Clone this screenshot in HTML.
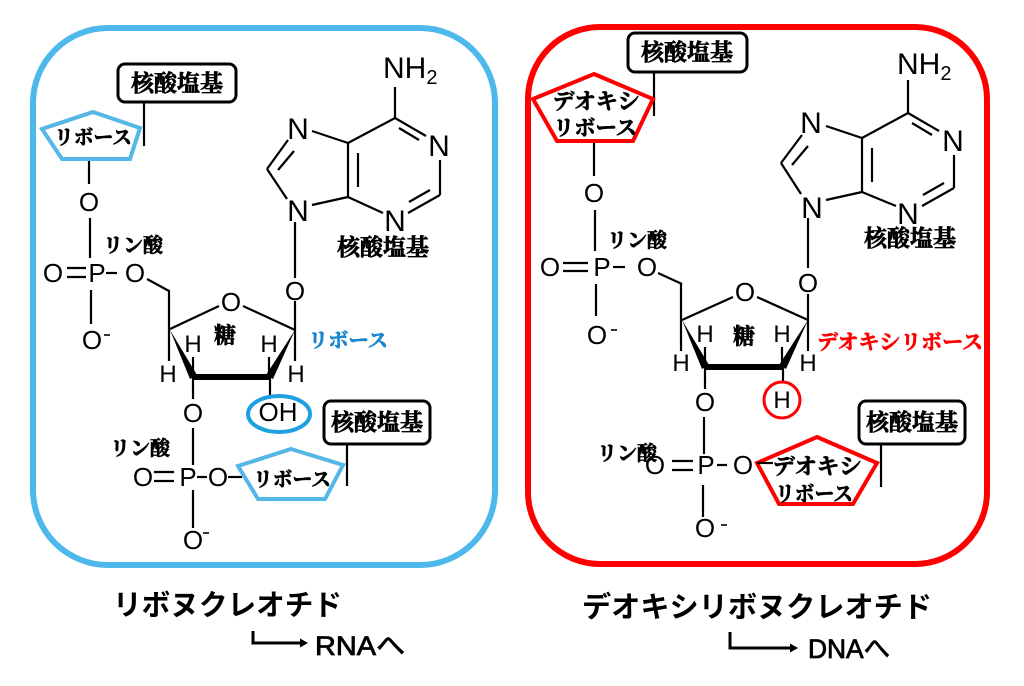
<!DOCTYPE html>
<html><head><meta charset="utf-8"><style>
html,body{margin:0;padding:0;background:#fff;}
svg{display:block;}
.c{font-family:"Liberation Sans",sans-serif;fill:#000;text-anchor:middle;}
.j{font-family:"Noto Serif CJK SC","Noto Sans CJK JP",serif;font-weight:bold;fill:#000;stroke:#000;stroke-width:0.7;text-anchor:middle;}
.g{font-family:"Liberation Sans","Noto Sans CJK JP",sans-serif;font-weight:bold;fill:#000;}
</style></head><body>
<svg width="1024" height="686" viewBox="0 0 1024 686" xmlns="http://www.w3.org/2000/svg">
<rect width="1024" height="686" fill="#fff"/>

<!-- ============ LEFT PANEL ============ -->
<rect x="33" y="28" width="462" height="537" rx="75" ry="75" fill="none" stroke="#4db8ec" stroke-width="6"/>

<g stroke="#000" stroke-width="2.2" fill="none" stroke-linecap="butt">
  <line x1="144" y1="103" x2="144" y2="146"/>
  <line x1="89" y1="159" x2="89" y2="184"/>
  <line x1="90" y1="218" x2="90" y2="258"/>
  <line x1="91" y1="290" x2="91" y2="324"/>
  <line x1="67" y1="268" x2="86" y2="268"/>
  <line x1="67" y1="277" x2="86" y2="277"/>
  <line x1="106" y1="273" x2="117" y2="273"/>
  <line x1="147" y1="279" x2="169" y2="291"/>
  <line x1="169" y1="290" x2="169" y2="361"/>
  <line x1="170" y1="329" x2="219" y2="306"/>
  <line x1="243" y1="306" x2="295" y2="330"/>
  <line x1="295" y1="301" x2="295" y2="361"/>
  <line x1="193" y1="377" x2="193" y2="357"/>
  <line x1="269" y1="377" x2="269" y2="357"/>
  <line x1="193" y1="377" x2="193" y2="399"/>
  <line x1="270" y1="377" x2="270" y2="397"/>
  <line x1="193" y1="428" x2="193" y2="465"/>
  <line x1="193" y1="490" x2="193" y2="528"/>
  <line x1="154" y1="472" x2="174" y2="472"/>
  <line x1="154" y1="481" x2="174" y2="481"/>
  <line x1="197" y1="477" x2="207" y2="477"/>
  <line x1="228" y1="477" x2="242" y2="477"/>
  <line x1="347" y1="445" x2="347" y2="486"/>
  <line x1="295" y1="222" x2="295" y2="278"/>
  <line x1="395" y1="87" x2="395" y2="118"/>
  <line x1="395" y1="118" x2="426" y2="136"/>
  <line x1="399" y1="128" x2="419" y2="140"/>
  <line x1="440" y1="160" x2="440" y2="195"/>
  <line x1="440" y1="195" x2="408" y2="213"/>
  <line x1="430" y1="190" x2="409" y2="202"/>
  <line x1="383" y1="213" x2="348" y2="197"/>
  <line x1="348" y1="197" x2="348" y2="143"/>
  <line x1="358" y1="153" x2="358" y2="187"/>
  <line x1="348" y1="143" x2="395" y2="118"/>
  <line x1="348" y1="143" x2="312" y2="131"/>
  <line x1="288" y1="140" x2="267" y2="169"/>
  <line x1="294" y1="151" x2="278" y2="170"/>
  <line x1="267" y1="169" x2="287" y2="199"/>
  <line x1="312" y1="205" x2="348" y2="197"/>
  <line x1="104" y1="335" x2="110" y2="335" stroke-width="1.6"/>
  <line x1="203" y1="533" x2="209" y2="533" stroke-width="1.6"/>
</g>
<polygon points="170,330 190,379 197,375" fill="#000"/>
<line x1="192" y1="377" x2="271" y2="377" stroke="#000" stroke-width="6"/>
<polygon points="295,330 266,375 273,379" fill="#000"/>

<rect x="118" y="64" width="118" height="38" rx="7" fill="#fff" stroke="#000" stroke-width="3"/>
<text class="j" x="177" y="91" font-size="23">核酸塩基</text>
<polygon points="93,112 140,128 130,159 62,159 42,129" fill="#fff" stroke="#55b6e8" stroke-width="4"/>
<text class="j" x="93" y="144" font-size="20" textLength="78" lengthAdjust="spacingAndGlyphs">リボース</text>

<rect x="324" y="401" width="106" height="43" rx="7" fill="#fff" stroke="#000" stroke-width="3"/>
<text class="j" x="377" y="430" font-size="23">核酸塩基</text>
<polygon points="291,449 343,465 325,499 258,499 238,466" fill="#fff" stroke="#55b6e8" stroke-width="4"/>
<text class="j" x="292" y="486" font-size="20" textLength="78" lengthAdjust="spacingAndGlyphs">リボース</text>

<text class="j" x="133" y="252" font-size="20">リン酸</text>
<text class="j" x="140" y="455" font-size="20">リン酸</text>
<text class="j" x="383" y="255" font-size="23">核酸塩基</text>
<text class="j" x="225" y="343" font-size="22">糖</text>
<text class="j" x="348" y="347" font-size="20" textLength="80" lengthAdjust="spacingAndGlyphs" style="fill:#1a88d0;stroke:#1a88d0">リボース</text>

<text class="c" x="383" y="78" font-size="30" style="text-anchor:start">NH<tspan font-size="20" dy="6">2</tspan></text>
<text class="c" x="298" y="139" font-size="30">N</text>
<text class="c" x="439" y="156" font-size="30">N</text>
<text class="c" x="395" y="231" font-size="30">N</text>
<text class="c" x="298" y="221" font-size="30">N</text>

<text class="c" x="89" y="211" font-size="26">O</text>
<text class="c" x="53" y="282" font-size="26">O</text>
<text class="c" x="97" y="282" font-size="26">P</text>
<text class="c" x="135" y="282" font-size="26">O</text>
<text class="c" x="92" y="349" font-size="26">O</text>
<text class="c" x="231" y="311" font-size="26">O</text>
<text class="c" x="295" y="300" font-size="26">O</text>
<text class="c" x="193" y="422" font-size="26">O</text>
<text class="c" x="278" y="421" font-size="26">OH</text>
<text class="c" x="143" y="486" font-size="26">O</text>
<text class="c" x="188" y="486" font-size="26">P</text>
<text class="c" x="218" y="486" font-size="26">O</text>
<text class="c" x="193" y="549" font-size="26">O</text>

<text class="c" x="193" y="352" font-size="24">H</text>
<text class="c" x="269" y="352" font-size="24">H</text>
<text class="c" x="168" y="382" font-size="24">H</text>
<text class="c" x="296" y="382" font-size="24">H</text>

<ellipse cx="279" cy="414" rx="31" ry="18" fill="none" stroke="#1ea0e0" stroke-width="4"/>

<!-- ============ RIGHT PANEL ============ -->
<rect x="528" y="27" width="459" height="537" rx="72" ry="72" fill="none" stroke="#f00" stroke-width="6"/>

<g stroke="#000" stroke-width="2.2" fill="none">
  <line x1="654" y1="73" x2="654" y2="116"/>
  <line x1="594" y1="143" x2="594" y2="176"/>
  <line x1="595" y1="210" x2="595" y2="251"/>
  <line x1="596" y1="284" x2="596" y2="316"/>
  <line x1="563" y1="263" x2="588" y2="263"/>
  <line x1="563" y1="271" x2="588" y2="271"/>
  <line x1="613" y1="267" x2="625" y2="267"/>
  <line x1="658" y1="273" x2="682" y2="284"/>
  <line x1="681" y1="283" x2="681" y2="351"/>
  <line x1="682" y1="320" x2="733" y2="297"/>
  <line x1="757" y1="297" x2="808" y2="320"/>
  <line x1="808" y1="294" x2="808" y2="351"/>
  <line x1="705" y1="367" x2="705" y2="347"/>
  <line x1="782" y1="367" x2="782" y2="347"/>
  <line x1="705" y1="367" x2="705" y2="389"/>
  <line x1="783" y1="367" x2="783" y2="383"/>
  <line x1="704" y1="417" x2="704" y2="454"/>
  <line x1="703" y1="485" x2="703" y2="517"/>
  <line x1="672" y1="461" x2="693" y2="461"/>
  <line x1="672" y1="470" x2="693" y2="470"/>
  <line x1="717" y1="465" x2="727" y2="465"/>
  <line x1="881" y1="445" x2="881" y2="487"/>
  <line x1="808" y1="218" x2="808" y2="268"/>
  <line x1="908" y1="80" x2="908" y2="113"/>
  <line x1="908" y1="113" x2="939" y2="131"/>
  <line x1="912" y1="123" x2="932" y2="135"/>
  <line x1="954" y1="155" x2="954" y2="188"/>
  <line x1="954" y1="188" x2="922" y2="206"/>
  <line x1="944" y1="183" x2="923" y2="195"/>
  <line x1="896" y1="206" x2="862" y2="192"/>
  <line x1="862" y1="192" x2="862" y2="138"/>
  <line x1="872" y1="148" x2="872" y2="182"/>
  <line x1="862" y1="138" x2="908" y2="113"/>
  <line x1="862" y1="138" x2="826" y2="126"/>
  <line x1="802" y1="135" x2="781" y2="163"/>
  <line x1="808" y1="146" x2="792" y2="165"/>
  <line x1="781" y1="163" x2="801" y2="194"/>
  <line x1="826" y1="200" x2="862" y2="192"/>
  <line x1="611" y1="330" x2="617" y2="330" stroke-width="1.6"/>
  <line x1="721" y1="525" x2="727" y2="525" stroke-width="1.6"/>
</g>
<polygon points="682,320 702,369 709,365" fill="#000"/>
<line x1="704" y1="367" x2="784" y2="367" stroke="#000" stroke-width="6"/>
<polygon points="808,320 779,365 786,369" fill="#000"/>

<rect x="628" y="33" width="119" height="39" rx="7" fill="#fff" stroke="#000" stroke-width="3"/>
<text class="j" x="687" y="60" font-size="23">核酸塩基</text>
<polygon points="594,74 653,99 633,141 557,141 533,99" fill="#fff" stroke="#f00" stroke-width="4"/>
<text class="j" x="596" y="109" font-size="22" textLength="87" lengthAdjust="spacingAndGlyphs">デオキシ</text>
<text class="j" x="595" y="135" font-size="21" textLength="84" lengthAdjust="spacingAndGlyphs">リボース</text>

<rect x="859" y="401" width="106" height="43" rx="7" fill="#fff" stroke="#000" stroke-width="3"/>
<text class="j" x="912" y="430" font-size="23">核酸塩基</text>
<polygon points="817,437 877,463 853,504 779,504 757,463" fill="#fff" stroke="#f00" stroke-width="4"/>
<line x1="757" y1="463" x2="773" y2="463" stroke="#000" stroke-width="2.2"/>
<text class="j" x="817" y="474" font-size="22" textLength="89" lengthAdjust="spacingAndGlyphs">デオキシ</text>
<text class="j" x="814" y="501" font-size="21" textLength="78" lengthAdjust="spacingAndGlyphs">リボース</text>

<text class="j" x="637" y="247" font-size="20">リン酸</text>
<text class="j" x="910" y="246" font-size="23">核酸塩基</text>
<text class="j" x="744" y="344" font-size="22">糖</text>
<text class="j" x="900" y="349" font-size="20.5" textLength="166" lengthAdjust="spacingAndGlyphs" style="fill:#f00;stroke:#f00">デオキシリボース</text>

<text class="c" x="897" y="74" font-size="30" style="text-anchor:start">NH<tspan font-size="20" dy="6">2</tspan></text>
<text class="c" x="811" y="133" font-size="30">N</text>
<text class="c" x="953" y="151" font-size="30">N</text>
<text class="c" x="908" y="224" font-size="30">N</text>
<text class="c" x="812" y="218" font-size="30">N</text>

<text class="c" x="594" y="202" font-size="26">O</text>
<text class="c" x="550" y="276" font-size="26">O</text>
<text class="c" x="602" y="276" font-size="26">P</text>
<text class="c" x="647" y="276" font-size="26">O</text>
<text class="c" x="597" y="344" font-size="26">O</text>
<text class="c" x="745" y="301" font-size="26">O</text>
<text class="c" x="808" y="292" font-size="26">O</text>
<text class="c" x="705" y="411" font-size="26">O</text>
<text class="c" x="655" y="474" font-size="26">O</text>
<text class="c" x="706" y="474" font-size="26">P</text>
<text class="c" x="743" y="474" font-size="26">O</text>
<text class="c" x="705" y="537" font-size="26">O</text>

<text class="c" x="705" y="342" font-size="24">H</text>
<text class="c" x="782" y="342" font-size="24">H</text>
<text class="c" x="681" y="371" font-size="24">H</text>
<text class="c" x="808" y="371" font-size="24">H</text>
<text class="c" x="782" y="408" font-size="24">H</text>
<circle cx="782" cy="400" r="18" fill="none" stroke="#f00" stroke-width="3"/>

<text class="j" x="627" y="460" font-size="20">リン酸</text>

<!-- ============ BOTTOM LABELS ============ -->
<text class="g" x="113" y="615" font-size="29" textLength="229" lengthAdjust="spacingAndGlyphs">リボヌクレオチド</text>
<text class="g" x="582" y="617" font-size="29" textLength="350" lengthAdjust="spacingAndGlyphs">デオキシリボヌクレオチド</text>

<path d="M253,631 L253,643 L302,643" fill="none" stroke="#000" stroke-width="3"/>
<polygon points="300,638.5 308,643 300,647.5" fill="#000"/>
<text class="g" x="315" y="655" font-size="27" textLength="90" lengthAdjust="spacingAndGlyphs" style="font-weight:normal;stroke:#000;stroke-width:0.8">RNAへ</text>

<path d="M730,632 L730,648 L792,648" fill="none" stroke="#000" stroke-width="3"/>
<polygon points="790,643.5 798,648 790,652.5" fill="#000"/>
<text class="g" x="808" y="658" font-size="27" textLength="82" lengthAdjust="spacingAndGlyphs" style="font-weight:normal;stroke:#000;stroke-width:0.8">DNAへ</text>
</svg>
</body></html>
